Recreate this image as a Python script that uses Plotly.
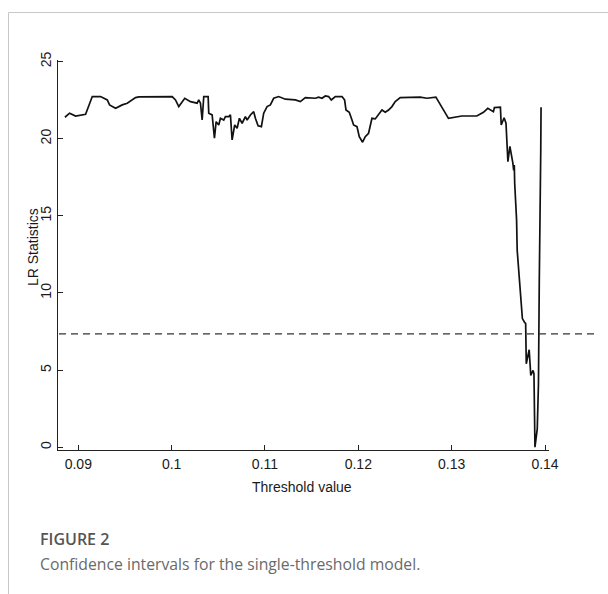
import plotly.graph_objects as go

# Threshold values (x) and LR statistics (y)
threshold = [
    0.088566, 0.089069, 0.089711, 0.090781, 0.091498, 0.092386, 0.093103, 0.093349,
    0.093991, 0.094708, 0.095243, 0.096132, 0.096485, 0.099342, 0.100059, 0.100412,
    0.100765, 0.101407, 0.102017, 0.102734, 0.102905, 0.103087, 0.103269, 0.103441,
    0.103911, 0.103976, 0.104339, 0.104585, 0.104767, 0.105046, 0.105228, 0.105581,
    0.105763, 0.106115, 0.106297, 0.106479, 0.106758, 0.107014, 0.107261, 0.107549,
    0.107902, 0.108084, 0.108438, 0.108791, 0.108973, 0.109262, 0.109615, 0.109861,
    0.110225, 0.110578, 0.110931, 0.111466, 0.111830, 0.112183, 0.113253, 0.113788,
    0.114323, 0.115040, 0.115393, 0.115746, 0.116110, 0.116463, 0.116816, 0.117105,
    0.117533, 0.118251, 0.118529, 0.118678, 0.119031, 0.119320, 0.119492, 0.119856,
    0.120102, 0.120455, 0.120744, 0.121097, 0.121461, 0.121814, 0.122167, 0.122531,
    0.122884, 0.123237, 0.123601, 0.123954, 0.124489, 0.126630, 0.127346, 0.128309,
    0.129657, 0.131091, 0.132697, 0.133403, 0.133874, 0.134227, 0.134473, 0.134580,
    0.135008, 0.135222, 0.135308, 0.135468, 0.135618, 0.135821, 0.135928, 0.136024,
    0.136238, 0.136377, 0.136549, 0.136645, 0.136710, 0.136753, 0.136956, 0.137020,
    0.137266, 0.137437, 0.137576, 0.137790, 0.137929, 0.137993, 0.138304, 0.138475,
    0.138721, 0.138817, 0.138924, 0.139170, 0.139299, 0.139385, 0.139502, 0.139545,
    0.139577,
]
lr_stat = [
    21.39, 21.65, 21.47, 21.58, 22.73, 22.73, 22.51, 22.19,
    21.97, 22.19, 22.30, 22.66, 22.71, 22.71, 22.73, 22.51,
    22.08, 22.62, 22.40, 22.30, 22.51, 22.30, 21.21, 22.73,
    22.73, 21.65, 21.54, 20.03, 21.10, 20.89, 21.32, 21.21,
    21.43, 21.43, 21.54, 19.92, 20.89, 20.68, 21.32, 21.00,
    21.43, 21.21, 21.54, 21.75, 21.32, 20.84, 20.78, 21.65,
    22.08, 22.19, 22.62, 22.73, 22.66, 22.56, 22.51, 22.40,
    22.66, 22.66, 22.62, 22.69, 22.62, 22.77, 22.73, 22.51,
    22.73, 22.73, 22.51, 21.86, 21.71, 21.21, 20.89, 20.78,
    20.13, 19.77, 20.13, 20.35, 21.32, 21.28, 21.54, 21.86,
    21.71, 21.86, 22.08, 22.40, 22.66, 22.69, 22.62, 22.69,
    21.32, 21.47, 21.47, 21.71, 21.97, 21.86, 21.75, 22.01,
    22.06, 22.04, 20.89, 21.21, 21.36, 21.00, 19.50, 18.51,
    19.50, 19.10, 18.45, 17.95, 18.29, 17.10, 14.72, 12.77,
    10.61, 9.31, 8.34, 8.12, 8.01, 5.41, 6.32, 4.66,
    4.98, 4.76, 0.0, 1.19, 4.12, 10.61, 14.93, 19.26,
    22.04,
]
critical_value = 7.35

x_tickvals = [0.09, 0.10, 0.11, 0.12, 0.13, 0.14]
x_ticktext = ["0.09", "0.1", "0.11", "0.12", "0.13", "0.14"]
y_tickvals = [0, 5, 10, 15, 20, 25]
y_ticktext = ["0", "5", "10", "15", "20", "25"]

W, H = 608, 594
L, R, T, B = 58, 59, 60, 144
pw, ph = W - L - R, H - T - B


def px2x(px):
    return (px - L) / pw


def py2y(py):
    return 1 - (py - T) / ph


tick_font = dict(family="Liberation Sans, Arial, sans-serif", size=14, color="#1a1a1a")

fig = go.Figure()
fig.add_trace(go.Scatter(
    x=threshold, y=lr_stat, mode="lines",
    line=dict(color="#111111", width=1.7), hoverinfo="skip", showlegend=False,
    cliponaxis=False,
))

fig.update_layout(
    width=W, height=H, autosize=False,
    margin=dict(l=L, r=R, t=T, b=B, pad=0),
    paper_bgcolor="white", plot_bgcolor="white",
    xaxis=dict(
        range=[0.087825, 0.140428], tickvals=x_tickvals, ticktext=x_ticktext,
        showline=True, linecolor="#222", linewidth=1.3, mirror=False,
        ticks="inside", ticklen=5, tickcolor="#222", tickwidth=1.2,
        showgrid=False, zeroline=False, tickfont=tick_font,
        ticklabelstandoff=1,
    ),
    yaxis=dict(
        range=[-0.18, 25.1], tickvals=y_tickvals, ticktext=y_ticktext,
        showline=True, linecolor="#222", linewidth=1.3, mirror=False,
        ticks="inside", ticklen=5, tickcolor="#222", tickwidth=1.2,
        showgrid=False, zeroline=False, tickfont=tick_font, tickangle=-90,
    ),
    shapes=[
        dict(type="line", xref="paper", yref="y", x0=px2x(59), x1=px2x(597),
             y0=critical_value, y1=critical_value,
             line=dict(color="#333", width=1.4, dash="7px,5px")),
        dict(type="line", xref="paper", yref="paper",
             x0=px2x(8.5), x1=px2x(608), y0=py2y(12.5), y1=py2y(12.5),
             line=dict(color="#c8c8c8", width=1)),
        dict(type="line", xref="paper", yref="paper",
             x0=px2x(8.5), x1=px2x(8.5), y0=py2y(12.5), y1=py2y(594),
             line=dict(color="#c8c8c8", width=1)),
    ],
    annotations=[
        dict(text="Threshold value", xref="paper", yref="paper",
             x=px2x(302), y=py2y(487), showarrow=False,
             xanchor="center", yanchor="middle", font=tick_font),
        dict(text="LR Statistics", xref="paper", yref="paper",
             x=px2x(33), y=py2y(247), showarrow=False, textangle=-90,
             xanchor="center", yanchor="middle", font=tick_font),
        dict(text="FIGURE 2", xref="paper", yref="paper",
             x=px2x(38), y=py2y(539), showarrow=False,
             xanchor="left", yanchor="middle",
             font=dict(family="Open Sans, sans-serif", size=16, color="#555555", weight=600)),
        dict(text="Confidence intervals for the single-threshold model.",
             xref="paper", yref="paper",
             x=px2x(38), y=py2y(564), showarrow=False,
             xanchor="left", yanchor="middle",
             font=dict(family="Open Sans, sans-serif", size=15.75, color="#6a6a6a")),
    ],
)

fig.write_html(
    "out.html",
    config={"displayModeBar": False},
    post_script="document.body.style.margin='0px';",
)
